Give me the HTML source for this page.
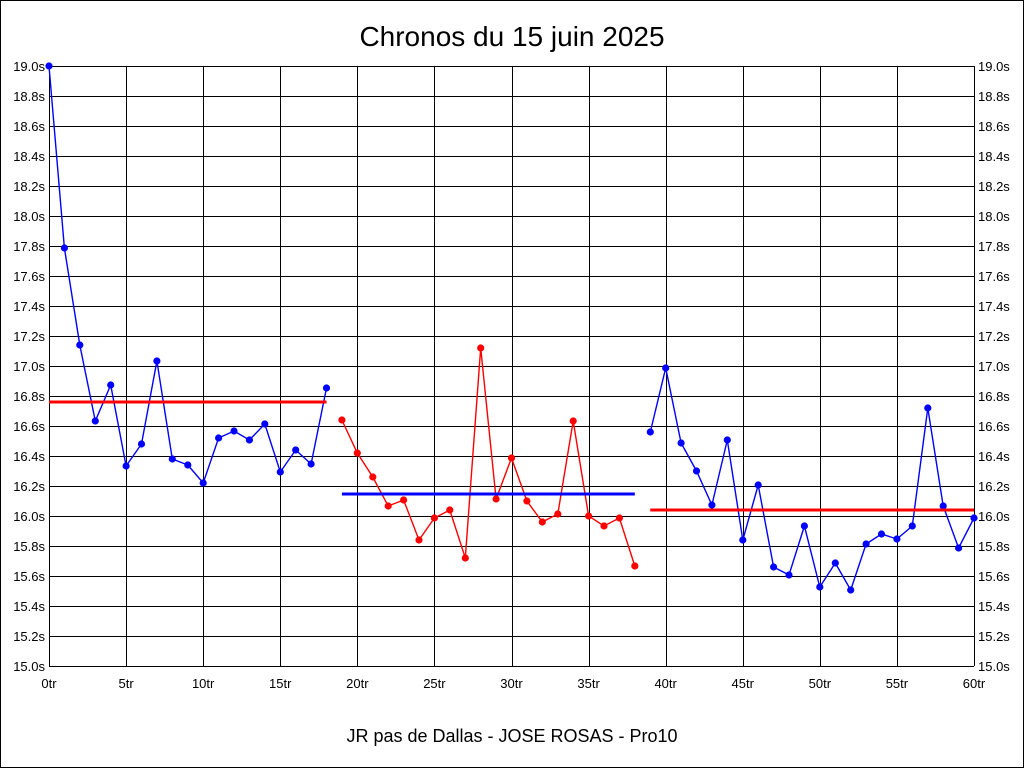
<!DOCTYPE html>
<html><head><meta charset="utf-8"><style>
html,body{margin:0;padding:0;background:#fff}
svg{display:block}
text{font-family:"Liberation Sans",Arial,sans-serif}
</style></head><body>
<svg id="s" width="1024" height="768" xmlns="http://www.w3.org/2000/svg">
<rect x="0.5" y="0.5" width="1023" height="767" fill="#fff" stroke="#000"/>
<text x="512" y="46" font-size="28" text-anchor="middle">Chronos du 15 juin 2025</text>
<text x="512" y="742" font-size="18" text-anchor="middle">JR pas de Dallas - JOSE ROSAS - Pro10</text>
<g id="g"></g>
</svg>
<script>
var g=document.getElementById('g'),h='';
var X0=49,X1=974,Y0=66,Y1=666;
function X(i){return X0+(X1-X0)*i/60}
for(var k=0;k<=20;k++){var y=Y0+k*30;h+='<line x1="'+X0+'" y1="'+(y+0.5)+'" x2="'+X1+'" y2="'+(y+0.5)+'" stroke="#000" shape-rendering="crispEdges"/>';
var v=(19-k*0.2).toFixed(1)+'s';
h+='<text x="45" y="'+(y+5)+'" font-size="13" text-anchor="end">'+v+'</text>';
h+='<text x="978" y="'+(y+5)+'" font-size="13">'+v+'</text>';}
for(var i=0;i<=60;i+=5){var x=Math.round(X(i))+0.5;h+='<line x1="'+x+'" y1="'+Y0+'" x2="'+x+'" y2="'+Y1+'" stroke="#000" shape-rendering="crispEdges"/>';
h+='<text x="'+X(i)+'" y="688" font-size="13" text-anchor="middle">'+i+'tr</text>';}
var d=[66,248,345,421,385,466,444,361,459,465,483,438,431,440,424,472,450,464,388,
420,453,477,506,500,540,518,510,558,348,499,458,501,522,514,421,516,526,518,566,
432,368,443,471,505,440,540,485,567,575,526,587,563,590,544,534,539,526,408,506,548,518];
function seg(a,b,c){var p=[];for(var i=a;i<=b;i++)p.push(X(i).toFixed(1)+','+d[i]);
h+='<polyline points="'+p.join(' ')+'" fill="none" stroke="'+c+'" stroke-width="1.4"/>';
for(var i=a;i<=b;i++)h+='<circle cx="'+X(i).toFixed(1)+'" cy="'+d[i]+'" r="3.6" fill="'+c+'"/>';}
seg(0,18,'#0000ff');seg(19,38,'#ff0000');seg(39,60,'#0000ff');
h+='<line x1="'+X0+'" y1="402" x2="'+X(18)+'" y2="402" stroke="#f00" stroke-width="3"/>';
h+='<line x1="'+X(19)+'" y1="494" x2="'+X(38)+'" y2="494" stroke="#00f" stroke-width="3"/>';
h+='<line x1="'+X(39)+'" y1="510" x2="'+X1+'" y2="510" stroke="#f00" stroke-width="3"/>';
g.innerHTML=h;
</script>
</body></html>
